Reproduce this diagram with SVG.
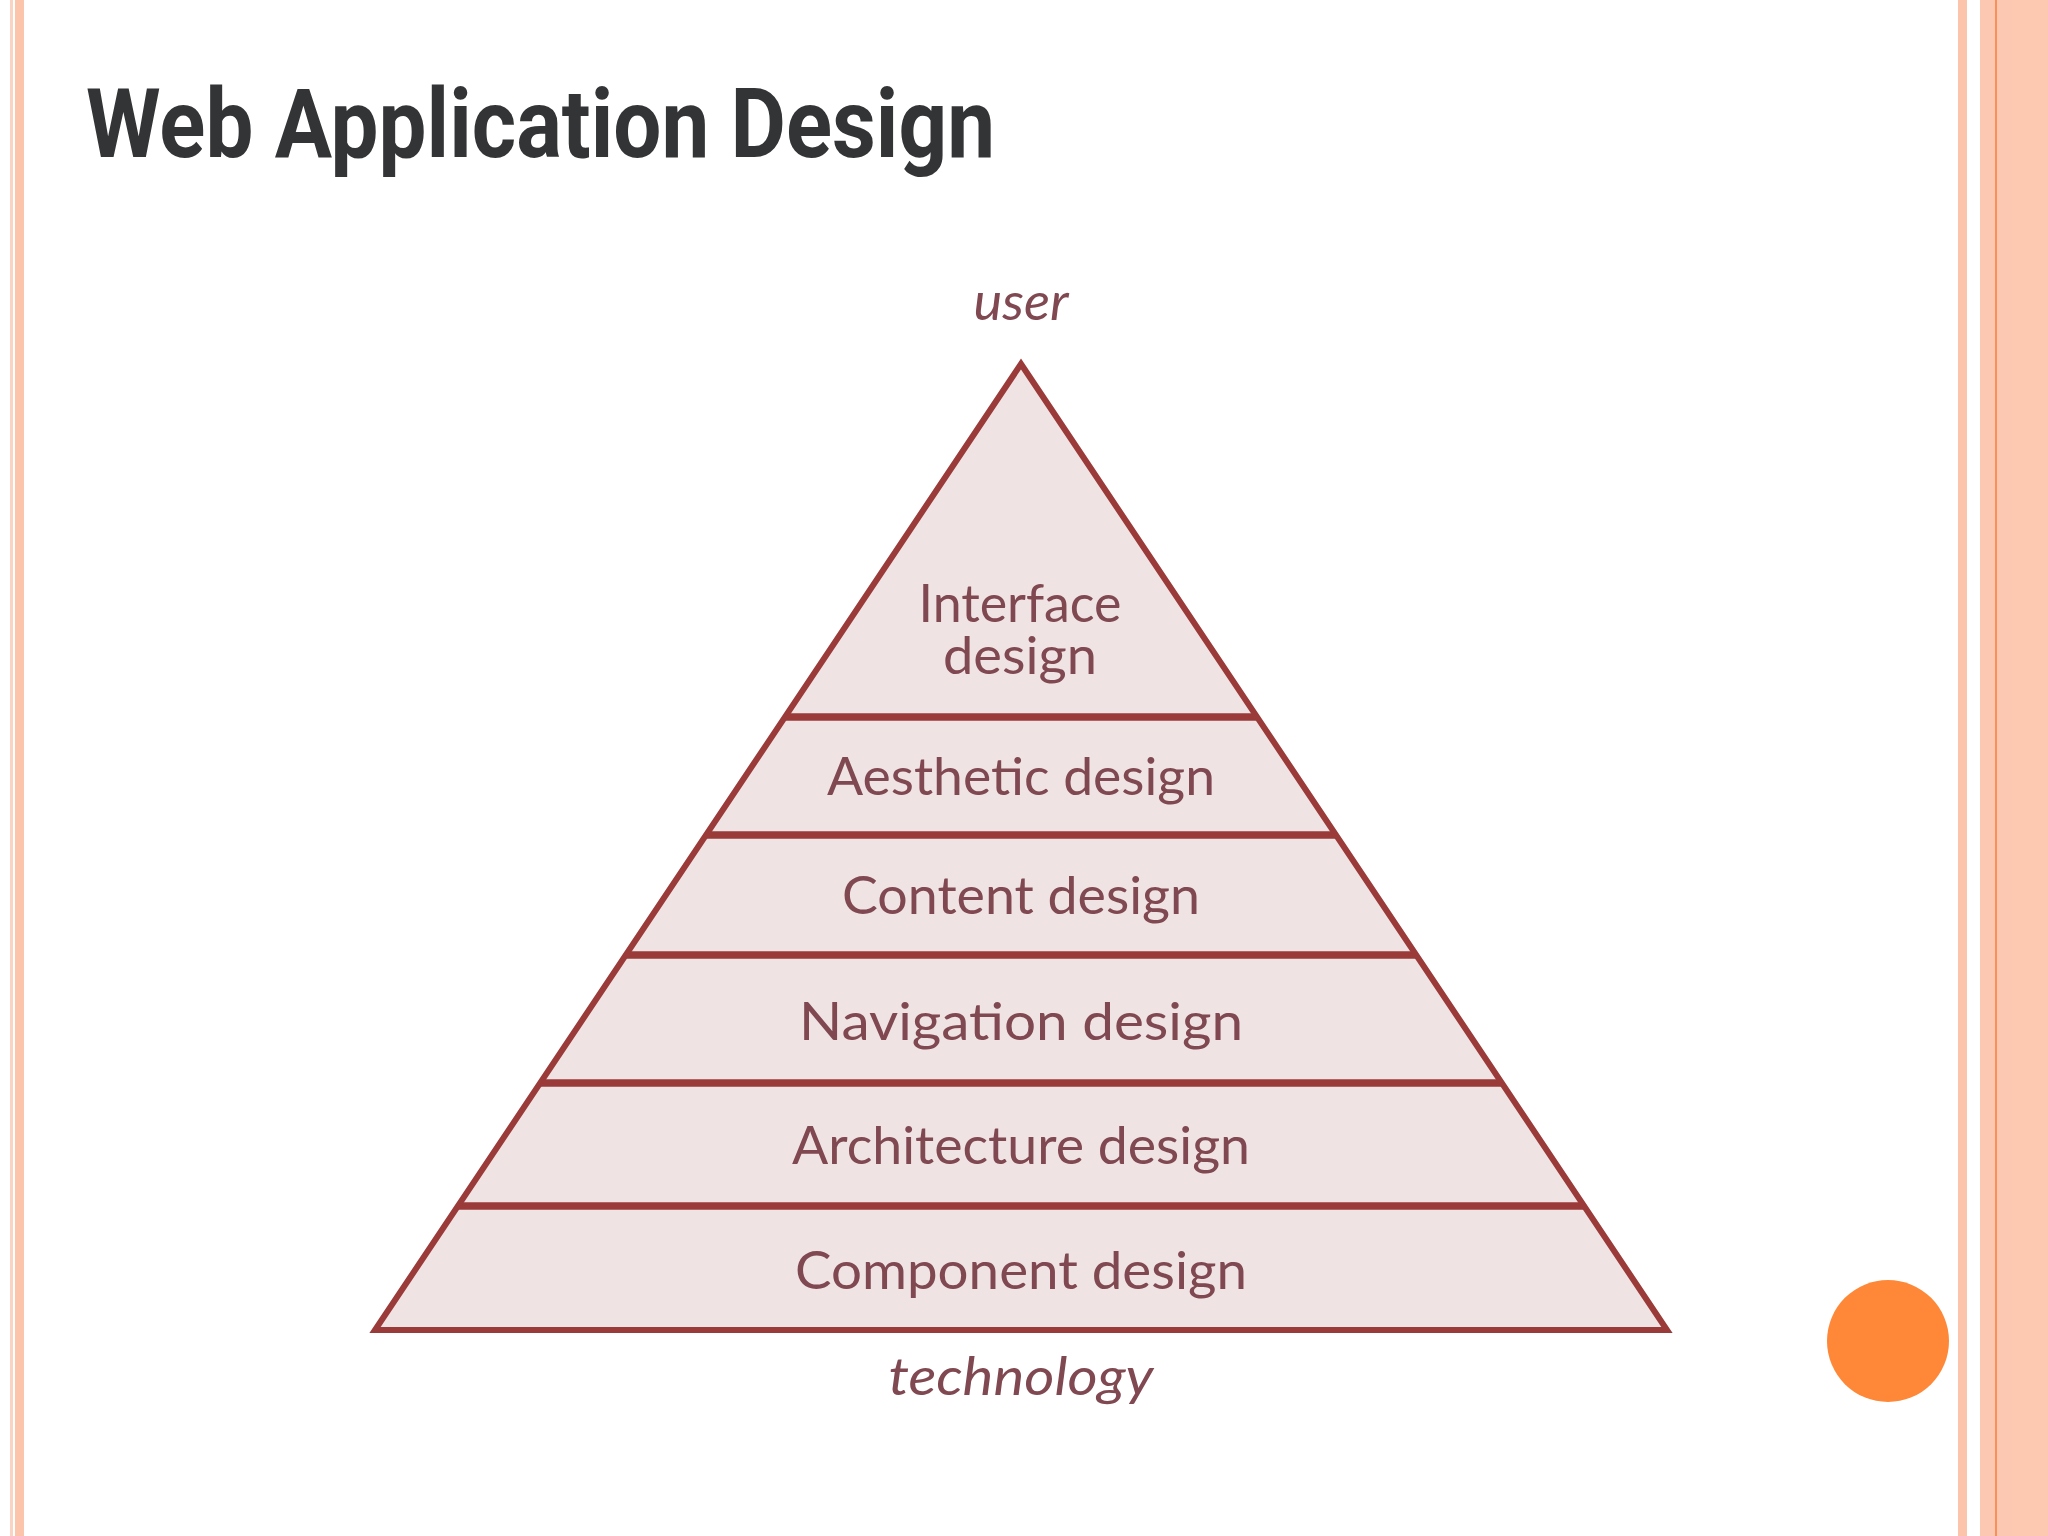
<svg xmlns="http://www.w3.org/2000/svg" width="2048" height="1536" viewBox="0 0 2048 1536">
<defs>
<style>
.lbl{font-family:Lato,"Open Sans","DejaVu Sans",sans-serif;font-size:52px;fill:#804850;text-anchor:middle}
.it{font-style:italic}
.ln{stroke:#9a3b3a;stroke-width:7.5;fill:none}
</style>
</defs>
<rect x="0" y="0" width="2048" height="1536" fill="#ffffff"/>
<g id="borders">
<rect x="10" y="0" width="3" height="1536" fill="#fbd3c4"/>
<rect x="15" y="0" width="9" height="1536" fill="#fcc4aa"/>
<rect x="1958" y="0" width="9" height="1536" fill="#fcc4aa"/>
<rect x="1980" y="0" width="68" height="1536" fill="#fcc8b2"/>
<rect x="2012" y="0" width="36" height="1536" fill="#fdc9b1"/>
<rect x="1995" y="0" width="2" height="1536" fill="#f7905a"/>
</g>
<text id="title" x="86" y="157" font-family="Roboto,'Liberation Sans',sans-serif" font-weight="bold" font-size="96" fill="#333436" textLength="909" lengthAdjust="spacingAndGlyphs">Web Application Design</text>
<g id="pyramid">
<polygon points="1021,364 375,1330 1667,1330" fill="#efe3e3" stroke="#9a3b3a" stroke-width="6" stroke-linejoin="miter"/>
</g>
<g id="connectors">
<line class="ln" x1="785" y1="717" x2="1257" y2="717"/>
<line class="ln" x1="706" y1="835" x2="1336" y2="835"/>
<line class="ln" x1="626" y1="955" x2="1416" y2="955"/>
<line class="ln" x1="540" y1="1083" x2="1502" y2="1083"/>
<line class="ln" x1="458" y1="1206" x2="1584" y2="1206"/>
</g>
<g id="node-user"><text class="lbl it" x="1021" y="320" textLength="95" lengthAdjust="spacingAndGlyphs">user</text></g>
<g id="node-interface"><text class="lbl" x="1020" y="622" font-size="50" textLength="203" lengthAdjust="spacingAndGlyphs">Interface</text><text class="lbl" x="1020" y="674" font-size="50" textLength="154" lengthAdjust="spacingAndGlyphs">design</text></g>
<g id="node-aesthetic"><text class="lbl" x="1021" y="795" textLength="388" lengthAdjust="spacingAndGlyphs">Aesthetic design</text></g>
<g id="node-content"><text class="lbl" x="1021" y="914" textLength="358" lengthAdjust="spacingAndGlyphs">Content design</text></g>
<g id="node-navigation"><text class="lbl" x="1021" y="1040" textLength="444" lengthAdjust="spacingAndGlyphs">Navigation design</text></g>
<g id="node-architecture"><text class="lbl" x="1021" y="1164" textLength="458" lengthAdjust="spacingAndGlyphs">Architecture design</text></g>
<g id="node-component"><text class="lbl" x="1021" y="1289" textLength="452" lengthAdjust="spacingAndGlyphs">Component design</text></g>
<g id="node-technology"><text class="lbl it" x="1021" y="1395" textLength="265" lengthAdjust="spacingAndGlyphs">technology</text></g>
<circle id="dot" cx="1888" cy="1341" r="61" fill="#fe8838"/>
</svg>
